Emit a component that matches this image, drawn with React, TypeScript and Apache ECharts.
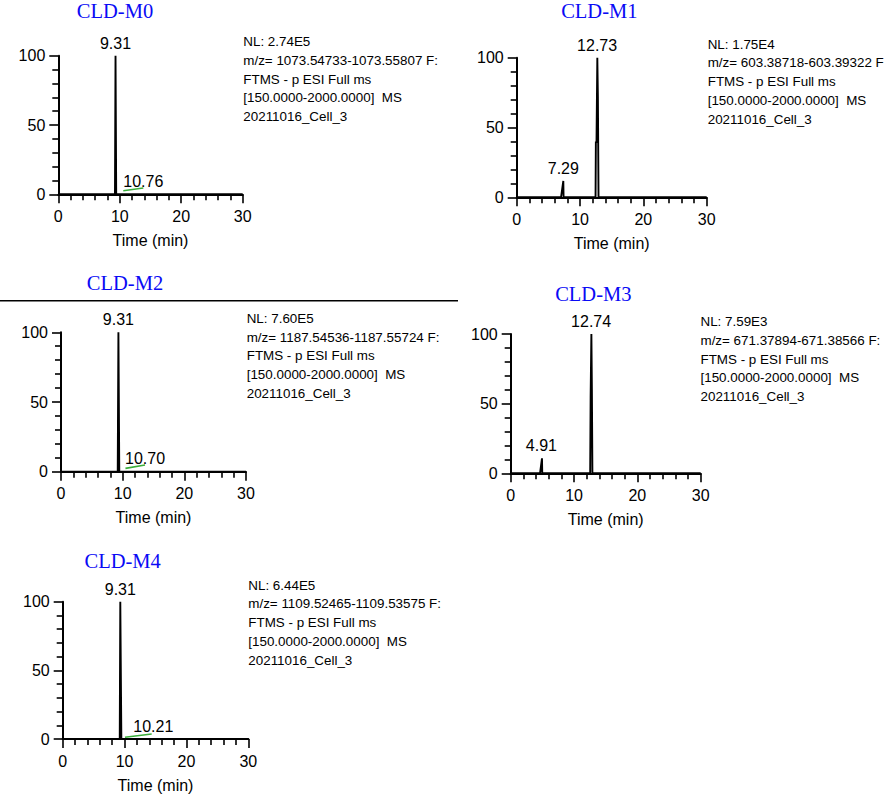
import React, { useEffect, useRef } from 'react';
import * as echarts from 'echarts';

// ---------- data ----------
const panelTitles = ['CLD-M0', 'CLD-M1', 'CLD-M2', 'CLD-M3', 'CLD-M4'];

const xTickValues = [0, 10, 20, 30];
const yTickValues = [0, 50, 100];

// chromatogram traces [time (min), relative abundance]
const traceM0 = [[0, 0], [9.22, 0], [9.31, 100], [9.42, 0], [30, 0]];
const traceM1 = [[0, 0], [7.0, 0], [7.36, 11.7], [7.4, 0], [12.45, 0], [12.5, 40], [12.6, 39], [12.73, 100], [12.82, 72], [12.92, 0], [30, 0]];
const traceM2 = [[0, 0], [9.2, 0], [9.31, 100], [9.45, 0], [30, 0]];
const traceM3 = [[0, 0], [4.63, 0], [4.94, 10.8], [4.98, 0], [12.55, 0], [12.62, 55], [12.74, 100], [12.82, 60], [12.9, 0], [30, 0]];
const traceM4 = [[0, 0], [9.22, 0], [9.31, 100], [9.48, 0], [30, 0]];

// green baseline marks
const greenM0 = [[10.57, 2.6], [13.83, 4.5]];
const greenM1: number[][] = [];
const greenM2 = [[10.45, 2.4], [13.62, 4.8]];
const greenM3: number[][] = [];
const greenM4 = [[10.07, 1.3], [14.38, 3.6]];

// apex labels [time, abundance, text]
const peakLabelsM0: [number, number, string][] = [[9.31, 100, '9.31']];
const peakLabelsM1: [number, number, string][] = [[12.7, 100, '12.73'], [7.36, 11.7, '7.29']];
const peakLabelsM2: [number, number, string][] = [[9.31, 100, '9.31']];
const peakLabelsM3: [number, number, string][] = [[12.7, 100, '12.74'], [4.85, 10.8, '4.91']];
const peakLabelsM4: [number, number, string][] = [[9.31, 100, '9.31']];

// side labels next to the green marks [time, abundance, text]
const sideLabelsM0: [number, number, string][] = [[10.57, 2.4, '10.76']];
const sideLabelsM1: [number, number, string][] = [];
const sideLabelsM2: [number, number, string][] = [[10.38, 3.0, '10.70']];
const sideLabelsM3: [number, number, string][] = [];
const sideLabelsM4: [number, number, string][] = [[11.41, 2.2, '10.21']];

const infoM0 = ['NL: 2.74E5', 'm/z= 1073.54733-1073.55807 F:', 'FTMS - p ESI Full ms', '[150.0000-2000.0000]  MS', '20211016_Cell_3'];
const infoM1 = ['NL: 1.75E4', 'm/z= 603.38718-603.39322 F:', 'FTMS - p ESI Full ms', '[150.0000-2000.0000]  MS', '20211016_Cell_3'];
const infoM2 = ['NL: 7.60E5', 'm/z= 1187.54536-1187.55724 F:', 'FTMS - p ESI Full ms', '[150.0000-2000.0000]  MS', '20211016_Cell_3'];
const infoM3 = ['NL: 7.59E3', 'm/z= 671.37894-671.38566 F:', 'FTMS - p ESI Full ms', '[150.0000-2000.0000]  MS', '20211016_Cell_3'];
const infoM4 = ['NL: 6.44E5', 'm/z= 1109.52465-1109.53575 F:', 'FTMS - p ESI Full ms', '[150.0000-2000.0000]  MS', '20211016_Cell_3'];

const xAxisName = 'Time (min)';

// ---------- layout ----------
const layouts = [
  { left: 58.3, top: 55.7, width: 184.4, height: 138.6, title: [115, 0], info: [243.3, 41.7] },
  { left: 516.7, top: 57.7, width: 190, height: 139.6, title: [599.3, 0.5], info: [707.7, 44] },
  { left: 61, top: 332.3, width: 185, height: 139.4, title: [125, 272.5], info: [246.7, 318.3] },
  { left: 510.7, top: 334, width: 190, height: 139.3, title: [593.3, 283.3], info: [700.5, 321.7] },
  { left: 62.7, top: 601.7, width: 185.6, height: 137.3, title: [122.7, 550.8], info: [248.3, 585] },
];

const SANS = '"Liberation Sans", Arial, Helvetica, sans-serif';
const SERIF = '"Liberation Serif", "Times New Roman", serif';

const traces = [traceM0, traceM1, traceM2, traceM3, traceM4];
const greens = [greenM0, greenM1, greenM2, greenM3, greenM4];
const peakLabels = [peakLabelsM0, peakLabelsM1, peakLabelsM2, peakLabelsM3, peakLabelsM4];
const sideLabels = [sideLabelsM0, sideLabelsM1, sideLabelsM2, sideLabelsM3, sideLabelsM4];
const infos = [infoM0, infoM1, infoM2, infoM3, infoM4];

function buildOption() {
  const grid: any[] = [];
  const xAxis: any[] = [];
  const yAxis: any[] = [];
  const series: any[] = [];
  const graphic: any[] = [];

  const axisCommon = {
    axisLine: { show: true, lineStyle: { color: '#000', width: 2 } },
    axisTick: { show: true, length: 9, lineStyle: { color: '#000', width: 1.6 } },
    minorTick: { show: true, splitNumber: 5, length: 6, lineStyle: { color: '#000', width: 1.6 } },
    splitLine: { show: false },
    minorSplitLine: { show: false },
  };

  const labelText = { color: '#000', fontSize: 16, fontFamily: SANS, opacity: 1, textBorderWidth: 0 };

  layouts.forEach((L, i) => {
    grid.push({ left: L.left, top: L.top, width: L.width, height: L.height, containLabel: false });
    xAxis.push({
      type: 'value',
      gridIndex: i,
      min: xTickValues[0],
      max: xTickValues[xTickValues.length - 1],
      interval: xTickValues[1] - xTickValues[0],
      ...axisCommon,
      axisLabel: { show: true, color: '#000', fontSize: 16, fontFamily: SANS, margin: 14 },
      name: xAxisName,
      nameLocation: 'middle',
      nameGap: 38,
      nameTextStyle: { color: '#000', fontSize: 16, fontFamily: SANS },
    });
    yAxis.push({
      type: 'value',
      gridIndex: i,
      min: yTickValues[0],
      max: yTickValues[yTickValues.length - 1],
      interval: yTickValues[1] - yTickValues[0],
      ...axisCommon,
      axisLabel: { show: true, color: '#000', fontSize: 16, fontFamily: SANS, margin: 13 },
    });

    series.push({
      type: 'line',
      xAxisIndex: i,
      yAxisIndex: i,
      data: traces[i],
      symbol: 'none',
      lineStyle: { color: '#000', width: 1.9 },
      silent: true,
      z: 3,
    });
    if (greens[i].length) {
      series.push({
        type: 'line',
        xAxisIndex: i,
        yAxisIndex: i,
        data: greens[i],
        symbol: 'none',
        lineStyle: { color: '#3aae3a', width: 1.6 },
        silent: true,
        z: 4,
      });
    }
    series.push({
      type: 'scatter',
      xAxisIndex: i,
      yAxisIndex: i,
      data: peakLabels[i].map(([x, y, t]) => ({ value: [x, y], name: t })),
      symbolSize: 1,
      itemStyle: { color: 'rgba(0,0,0,0)' },
      silent: true,
      label: { show: true, position: 'top', distance: 4, formatter: '{b}', ...labelText },
      z: 5,
    });
    if (sideLabels[i].length) {
      series.push({
        type: 'scatter',
        xAxisIndex: i,
        yAxisIndex: i,
        data: sideLabels[i].map(([x, y, t]) => ({ value: [x, y], name: t })),
        symbolSize: 1,
        itemStyle: { color: 'rgba(0,0,0,0)' },
        silent: true,
        label: { show: true, position: 'top', align: 'left', distance: 1, formatter: '{b}', ...labelText },
        z: 5,
      });
    }

    graphic.push({
      type: 'text',
      x: L.title[0],
      y: L.title[1],
      silent: true,
      style: {
        text: panelTitles[i],
        fill: '#0a0af5',
        font: `20.5px ${SERIF}`,
        align: 'center',
        verticalAlign: 'top',
      },
    });
    graphic.push({
      type: 'text',
      x: L.info[0],
      y: L.info[1] - 18.75 / 2,
      silent: true,
      style: {
        text: infos[i].join('\n'),
        fill: '#000',
        font: `13.4px ${SANS}`,
        lineHeight: 18.75,
        align: 'left',
        verticalAlign: 'top',
      },
    });
  });

  graphic.push({
    type: 'line',
    silent: true,
    shape: { x1: 0, y1: 300.7, x2: 458, y2: 300.7 },
    style: { stroke: '#000', lineWidth: 1.6 },
  });

  return {
    animation: false,
    backgroundColor: '#fff',
    grid,
    xAxis,
    yAxis,
    series,
    graphic,
  };
}

export default function App() {
  const ref = useRef<HTMLDivElement>(null);
  useEffect(() => {
    if (!ref.current) return;
    const chart = echarts.init(ref.current, undefined, { renderer: 'svg' });
    chart.setOption(buildOption() as any);
    return () => chart.dispose();
  }, []);
  return (
    <div
      ref={ref}
      style={{ position: 'absolute', left: 0, top: 0, width: 884, height: 795, background: '#fff' }}
    />
  );
}
